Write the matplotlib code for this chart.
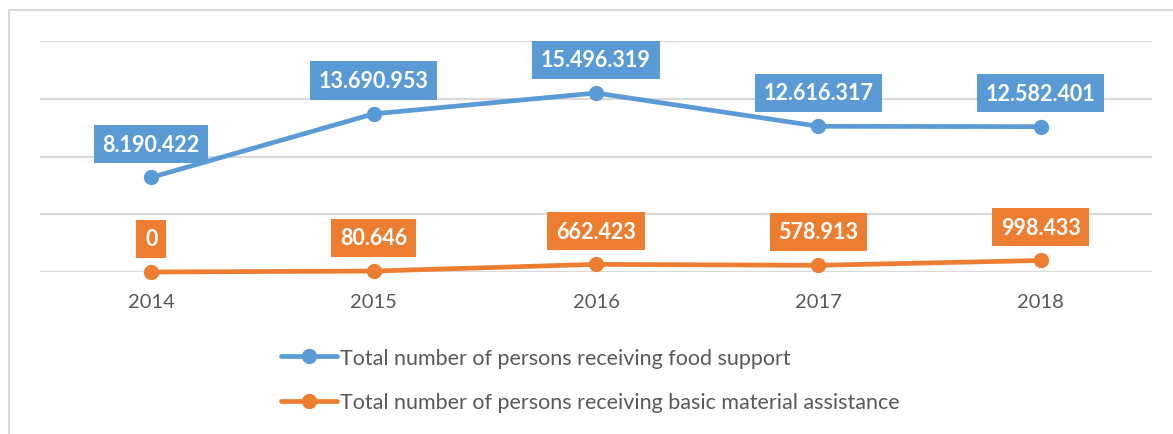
import matplotlib
matplotlib.use("Agg")
import matplotlib.pyplot as plt
from matplotlib.lines import Line2D

years = ["2014", "2015", "2016", "2017", "2018"]
food_support = [8190422, 13690953, 15496319, 12616317, 12582401]
material_assistance = [0, 80646, 662423, 578913, 998433]
series_names = ["Total number of persons receiving food support",
                "Total number of persons receiving basic material assistance"]

blue = "#5B9BD5"
orange = "#ED7D31"
grid_c = "#D9D9D9"
text_c = "#595959"

plt.rcParams['font.family'] = ['Lato', 'DejaVu Sans']


def fmt(v):
    return "{:,}".format(v).replace(",", ".")


fig = plt.figure(figsize=(11.73, 4.35), dpi=100)
ax = fig.add_axes([40 / 1173, 1 - 273 / 435, 1112 / 1173, 231 / 435])

x = list(range(len(years)))
for vals, c in [(food_support, blue), (material_assistance, orange)]:
    ax.plot(x, vals, color=c, lw=3.4, marker='o', markersize=10,
            solid_capstyle='round', zorder=3, clip_on=False)
    for xi, v in zip(x, vals):
        ax.annotate(fmt(v), (xi, v), xytext=(0, 24), textcoords='offset points',
                    ha='center', va='center', color='white', fontsize=15.5,
                    fontweight='bold', zorder=4,
                    bbox=dict(boxstyle='square,pad=0.4', fc=c, ec='none'))

ax.set_xlim(-0.5, 4.5)
ax.set_ylim(0, 20000000)
ax.set_yticks([0, 5000000, 10000000, 15000000, 20000000])
ax.yaxis.grid(True, color=grid_c, lw=1.6)
ax.set_axisbelow(True)
ax.set_yticklabels([])
ax.tick_params(axis='y', length=0)
ax.set_xticks(x)
ax.set_xticklabels(years, color=text_c, fontsize=14.5)
ax.tick_params(axis='x', length=0, pad=15)
for s in ax.spines.values():
    s.set_visible(False)

handles = [Line2D([0], [0], color=c, lw=3.4, marker='o', markersize=10,
                  solid_capstyle='round') for c in (blue, orange)]
fig.legend(handles, series_names, loc='upper left',
           bbox_to_anchor=(272 / 1173, 1 - 340 / 435), frameon=False,
           fontsize=15.5, labelcolor=text_c, handlelength=2.6, handletextpad=0.15,
           labelspacing=1.15, borderaxespad=0)

# outer chart frame
fig.add_artist(Line2D([9 / 1173, 9 / 1173], [0, 1 - 11 / 435],
                      transform=fig.transFigure, color=grid_c, lw=1.5))
fig.add_artist(Line2D([9 / 1173, 1], [1 - 11 / 435, 1 - 11 / 435],
                      transform=fig.transFigure, color=grid_c, lw=1.5))

fig.savefig("out.png", dpi=100)
